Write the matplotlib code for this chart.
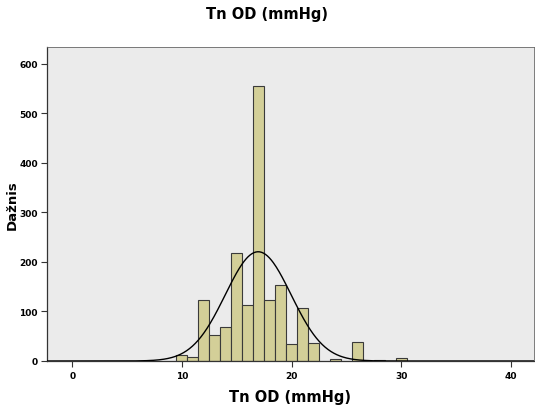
import matplotlib
matplotlib.use('Agg')
import matplotlib.pyplot as plt
import numpy as np

# histogram bins (centres, width 1 mmHg) and counts
bin_centres = [10, 11, 12, 13, 14, 15, 16, 17, 18, 19, 20, 21, 22, 24, 26, 28, 30]
counts = [12, 8, 123, 53, 69, 218, 114, 556, 123, 153, 34, 107, 37, 5, 38, 3, 7]

x_ticks = [0, 10, 20, 30, 40]
y_ticks = [0, 100, 200, 300, 400, 500, 600]

title = 'Tn OD (mmHg)'
x_label = 'Tn OD (mmHg)'
y_label = 'Dažnis'

# normal curve from the data itself
values = np.repeat(bin_centres, counts)
mu = values.mean()
sigma = values.std(ddof=1)
n = len(values)
xs = np.linspace(-2.3, 42.1, 500)
ys = n * 1.0 / (sigma * np.sqrt(2 * np.pi)) * np.exp(-(xs - mu) ** 2 / (2 * sigma ** 2))

plt.rcParams['font.family'] = 'DejaVu Sans'
fig = plt.figure(figsize=(5.35, 4.1), dpi=100)
ax = fig.add_axes([47 / 535, 1 - 362 / 410, 1 - 47 / 535 - 0.002, (362 - 48) / 410])
ax.set_facecolor('#ebebeb')

ax.bar(bin_centres, counts, width=1.0, color='#d3cf98', edgecolor='#3a3a3a', linewidth=0.8, zorder=2)
ax.plot(xs, ys, color='black', linewidth=1.0, zorder=3)

ax.set_xlim(-2.3, 42.1)
ax.set_ylim(0, 634)
ax.set_xticks(x_ticks)
ax.set_yticks(y_ticks)
ax.tick_params(axis='both', labelsize=6.5, length=4, width=0.8, color='#333333')
ax.tick_params(axis='y', pad=2.5)
for lbl in ax.get_xticklabels() + ax.get_yticklabels():
    lbl.set_fontweight('bold')

for side in ['top', 'right']:
    ax.spines[side].set_color('#666666')
    ax.spines[side].set_linewidth(0.6)
for side in ['left', 'bottom']:
    ax.spines[side].set_color('#333333')
    ax.spines[side].set_linewidth(0.9)

ax.set_xlabel(x_label, fontsize=10.5, fontweight='bold', labelpad=6)
ax.set_ylabel(y_label, fontsize=9.5, fontweight='bold', va='center')
ax.yaxis.set_label_coords(-0.072, 0.5)
fig.text(267 / 535, 1 - 15 / 410, title, ha='center', va='center', fontsize=10.5, fontweight='bold')

fig.savefig('out.png', dpi=100)
